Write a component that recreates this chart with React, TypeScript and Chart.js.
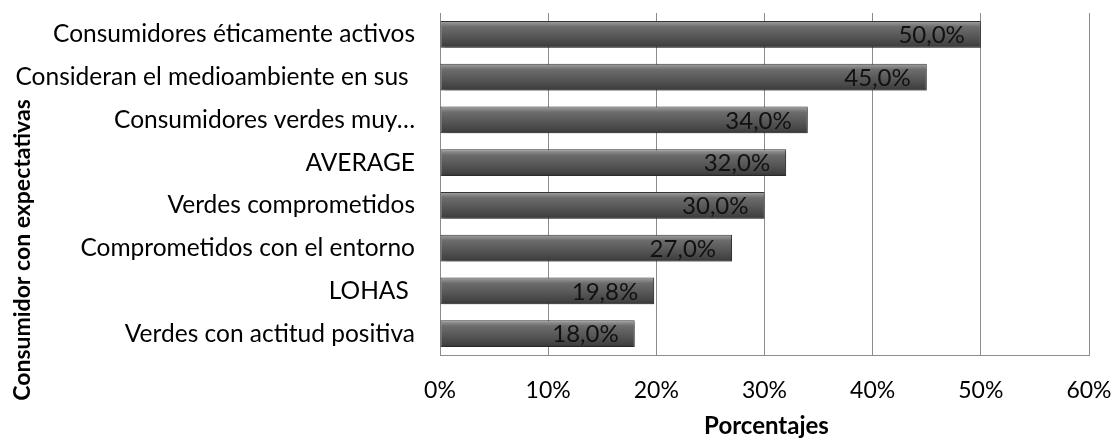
import React, { useEffect, useRef } from "react";
import { Chart, registerables } from "chart.js";

Chart.register(...registerables);

const categories = [
  "Consumidores éticamente activos",
  "Consideran el medioambiente en sus ",
  "Consumidores verdes muy…",
  "AVERAGE",
  "Verdes comprometidos",
  "Comprometidos con el entorno",
  "LOHAS ",
  "Verdes con actitud positiva",
];
const values = [50.0, 45.0, 34.0, 32.0, 30.0, 27.0, 19.8, 18.0];
const valueLabels = ["50,0%", "45,0%", "34,0%", "32,0%", "30,0%", "27,0%", "19,8%", "18,0%"];
const xTicks = [0, 10, 20, 30, 40, 50, 60];
const xTitle = "Porcentajes";
const yTitle = "Consumidor con expectativas";

const FONT = "Lato, 'Open Sans', sans-serif";
const BAR_PCT = 0.7;
const CAT_PCT = 0.9;

export default function App() {
  const ref = useRef<HTMLCanvasElement | null>(null);

  useEffect(() => {
    const canvas = ref.current;
    if (!canvas) return;

    const barGradient = (c: any) => {
      const chart = c.chart;
      const ys = chart.scales && chart.scales.y;
      if (!chart.chartArea || !ys || c.dataIndex === undefined) return "#555555";
      const center = ys.getPixelForValue(c.dataIndex);
      const h = (ys.height / categories.length) * BAR_PCT * CAT_PCT;
      const g = chart.ctx.createLinearGradient(0, center - h / 2, 0, center + h / 2);
      g.addColorStop(0, "#a6a6a6");
      g.addColorStop(0.1, "#8a8a8a");
      g.addColorStop(0.22, "#6c6c6c");
      g.addColorStop(0.6, "#555555");
      g.addColorStop(0.9, "#414141");
      g.addColorStop(1, "#303030");
      return g;
    };

    const shadowPlugin = {
      id: "barShadow",
      beforeDatasetsDraw(chart: any) {
        const ctx = chart.ctx;
        ctx.save();
        ctx.shadowColor = "rgba(0,0,0,0.35)";
        ctx.shadowOffsetX = 2;
        ctx.shadowOffsetY = 2;
        ctx.shadowBlur = 3;
      },
      afterDatasetsDraw(chart: any) {
        chart.ctx.restore();
      },
    };

    const labelsPlugin = {
      id: "valueLabels",
      afterDatasetsDraw(chart: any) {
        const ctx = chart.ctx;
        const meta = chart.getDatasetMeta(0);
        ctx.save();
        ctx.font = `24px ${FONT}`;
        ctx.fillStyle = "#111111";
        ctx.textAlign = "right";
        ctx.textBaseline = "middle";
        meta.data.forEach((bar: any, i: number) => {
          ctx.fillText(valueLabels[i], bar.x - 16, bar.y + 1);
        });
        ctx.restore();
      },
    };

    const titlesPlugin = {
      id: "axisTitles",
      afterDraw(chart: any) {
        const ctx = chart.ctx;
        const area = chart.chartArea;
        ctx.save();
        ctx.fillStyle = "#000000";
        ctx.font = `bold 24px ${FONT}`;
        ctx.textAlign = "center";
        ctx.textBaseline = "middle";
        ctx.fillText(xTitle, (area.left + area.right) / 2 + 2, 426);
        ctx.font = `bold 23px ${FONT}`;
        ctx.translate(23, 250);
        ctx.rotate(-Math.PI / 2);
        ctx.fillText(yTitle, 0, 0);
        ctx.restore();
      },
    };

    const chart = new Chart(canvas, {
      type: "bar",
      data: {
        labels: categories,
        datasets: [
          {
            data: values,
            backgroundColor: barGradient,
            borderColor: "#363636",
            borderWidth: 1,
            borderSkipped: false,
            barPercentage: BAR_PCT,
            categoryPercentage: CAT_PCT,
          },
        ],
      },
      options: {
        indexAxis: "y",
        responsive: false,
        animation: false,
        maintainAspectRatio: false,
        layout: { padding: { left: 0, right: 25, top: 13, bottom: 0 } },
        plugins: {
          legend: { display: false },
          tooltip: { enabled: false },
          title: { display: false },
        },
        scales: {
          x: {
            type: "linear",
            min: 0,
            max: 60,
            afterBuildTicks: (s: any) => {
              s.ticks = xTicks.map((v) => ({ value: v }));
            },
            afterFit: (s: any) => {
              s.height = 86;
              s.paddingLeft = 0;
              s.paddingRight = 0;
            },
            ticks: {
              padding: 22,
              color: "#000000",
              font: { family: FONT, size: 23 },
              callback: (v: any) => `${v}%`,
              maxRotation: 0,
            },
            grid: { color: "#8c8c8c", lineWidth: 1, drawTicks: false },
            border: { display: true, color: "#8c8c8c", width: 1 },
          },
          y: {
            type: "category",
            afterFit: (s: any) => {
              s.width = 440;
              s.paddingTop = 0;
              s.paddingBottom = 0;
            },
            ticks: {
              padding: 25,
              color: "#000000",
              font: { family: FONT, size: 24.5 },
              autoSkip: false,
            },
            grid: { display: false, drawTicks: false },
            border: { display: true, color: "#8c8c8c", width: 1 },
          },
        },
      },
      plugins: [shadowPlugin, labelsPlugin, titlesPlugin],
    });

    return () => chart.destroy();
  }, []);

  return (
    <div style={{ position: "absolute", left: 0, top: 0, width: 1114, height: 441, background: "#ffffff" }}>
      <canvas ref={ref} width={1114} height={441} style={{ display: "block" }} />
    </div>
  );
}
